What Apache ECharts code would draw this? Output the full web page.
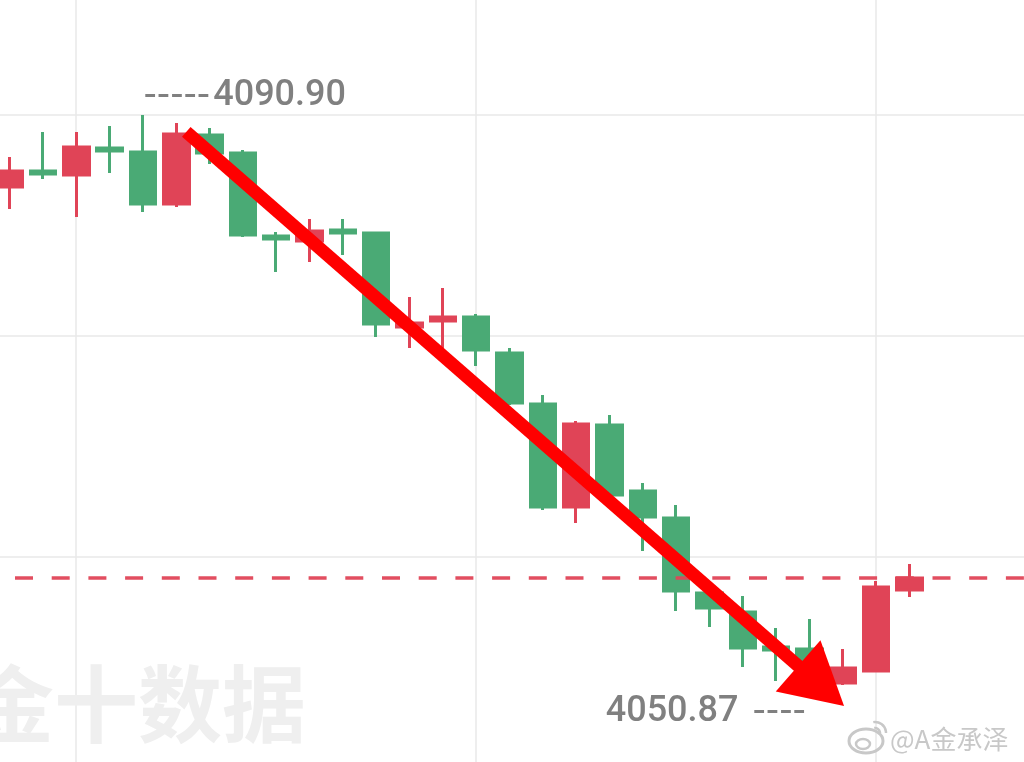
<!DOCTYPE html>
<html><head><meta charset="utf-8">
<script src="https://cdn.jsdelivr.net/npm/echarts@6/dist/echarts.min.js"></script>
<style>html,body{margin:0;padding:0;background:#fff;overflow:hidden;width:1024px;height:762px}
#c{position:absolute;left:-7px;top:0;width:1033px;height:762px}</style>
</head><body><div id="c"></div>
<script>
// ---- data ----
const categories = ['1','2','3','4','5','6','7','8','9','10','11','12','13','14','15','16','17','18','19','20','21','22','23','24','25','26','27','28','29','30','31'];
const openValues  = [4085.89,4087.00,4086.72,4088.60,4088.32,4084.70,4089.51,4088.25,4082.48,4082.13,4082.89,4082.69,4076.14,4076.56,4076.84,4074.33,4070.78,4063.61,4069.32,4064.72,4062.84,4057.62,4056.30,4053.86,4053.72,4051.36,4052.19,4057.83];
const closeValues = [4087.00,4086.79,4088.67,4088.39,4084.70,4089.58,4088.25,4082.55,4082.27,4082.82,4082.69,4076.35,4076.42,4076.84,4074.54,4070.85,4063.61,4069.39,4064.45,4062.91,4057.76,4056.58,4053.79,4053.65,4052.61,4052.40,4058.04,4058.67];
const lowValues   = [4084.36,4086.44,4083.80,4086.86,4084.15,4084.49,4087.49,4082.41,4079.97,4080.67,4081.15,4075.45,4074.68,4074.68,4073.43,4070.71,4063.40,4062.50,4064.31,4060.55,4056.37,4055.26,4052.47,4051.50,4050.87,4051.22,4052.19,4057.34];
const highValues  = [4087.98,4089.72,4089.72,4090.13,4090.90,4090.34,4090.00,4088.46,4082.75,4083.66,4083.66,4082.75,4078.23,4078.86,4077.05,4074.68,4071.41,4069.60,4070.01,4065.28,4063.75,4057.70,4057.41,4055.19,4055.81,4053.72,4058.46,4059.64];
// hand-drawn arrow annotation, in (candle index, price) terms
const arrowFrom = [5.30, 4089.72];
const arrowTo   = [25.04, 4049.76];
const watermarkText = '金十数据';
const authorText = '@A金承泽';

// ---- build ----
const candleData = openValues.map((o, i) => [o, closeValues[i], lowValues[i], highValues[i]]);
const maxHigh = Math.max(...highValues);
const maxIdx = highValues.indexOf(maxHigh);
const minLow = Math.min(...lowValues);
const minIdx = lowValues.indexOf(minLow);
const lastClose = closeValues[closeValues.length - 1];

const UP = '#e04457', DOWN = '#4aaa75', GRID = '#e9e9e9', LABEL = '#808080';
const Y_MIN = 4045.857, Y_MAX = 4098.906;
const OX = 7; // chart canvas is shifted 7px left of the page

const chart = echarts.init(document.getElementById('c'), null, {renderer: 'canvas'});
const option = {
  animation: false,
  backgroundColor: '#ffffff',
  grid: [
    {left: 0, right: 0, top: 0, bottom: 0},                 // candles
    {left: 76 + OX, width: 800, top: 0, bottom: 0},         // vertical grid lines
    {left: 0, right: 0, top: 115, height: 442}              // horizontal grid lines
  ],
  xAxis: [
    {type: 'category', gridIndex: 0, data: categories, boundaryGap: true, show: false},
    {type: 'value', gridIndex: 1, min: 0, max: 2, interval: 1,
     axisLine: {show: false}, axisTick: {show: false}, axisLabel: {show: false},
     splitLine: {show: true, lineStyle: {color: GRID, width: 1.5}}},
    {type: 'value', gridIndex: 2, min: 0, max: 1, show: false, splitLine: {show: false}}
  ],
  yAxis: [
    {type: 'value', gridIndex: 0, min: Y_MIN, max: Y_MAX, show: false, splitLine: {show: false}},
    {type: 'value', gridIndex: 1, min: 0, max: 1, show: false, splitLine: {show: false}},
    {type: 'value', gridIndex: 2, min: 0, max: 2, interval: 1,
     axisLine: {show: false}, axisTick: {show: false}, axisLabel: {show: false},
     splitLine: {show: true, lineStyle: {color: GRID, width: 1.5}}}
  ],
  series: [{
    type: 'candlestick',
    xAxisIndex: 0, yAxisIndex: 0,
    data: candleData,
    barWidth: 26,
    itemStyle: {color: UP, color0: DOWN, borderColor: UP, borderColor0: DOWN, borderWidth: 3},
    emphasis: {disabled: true},
    markLine: {
      silent: true, symbol: 'none', animation: false,
      label: {show: false},
      lineStyle: {color: UP, width: 3.5, type: [18, 18.7], dashOffset: 14.7, opacity: 0.95},
      emphasis: {disabled: true},
      data: [{yAxis: lastClose}]
    },
    markPoint: {
      silent: true, animation: false,
      symbol: 'circle', symbolSize: 1,
      itemStyle: {color: 'rgba(0,0,0,0)'},
      data: [
        {coord: [maxIdx, maxHigh], value: maxHigh,
         label: {show: true, position: 'right', distance: 0, offset: [0, -19],
           formatter: '{d|-----}{v|' + maxHigh.toFixed(2) + '}',
           rich: {
             d: {fontFamily: 'DejaVu Sans', fontSize: 37, color: LABEL, padding: [0, 3, 0, 0]},
             v: {fontFamily: 'Roboto', fontSize: 36, fontWeight: 500, color: LABEL}
           }}},
        {coord: [minIdx, minLow], value: minLow,
         label: {show: true, position: 'left', distance: 3, offset: [0, 22],
           formatter: '{v|' + minLow.toFixed(2) + '}{d|----}',
           rich: {
             d: {fontFamily: 'DejaVu Sans', fontSize: 37, color: LABEL, padding: [0, 0, 0, 14]},
             v: {fontFamily: 'Roboto', fontSize: 36, fontWeight: 500, color: LABEL}
           }}}
      ]
    }
  }]
};
chart.setOption(option);

// ---- decorations: watermark, author tag, arrow ----
function toPixel(pt) {
  const i0 = Math.floor(pt[0]);
  const f = pt[0] - i0;
  const a = chart.convertToPixel({seriesIndex: 0}, [i0, pt[1]]);
  const b = chart.convertToPixel({seriesIndex: 0}, [i0 + 1, pt[1]]);
  return [a[0] + f * (b[0] - a[0]), a[1]];
}
const s = toPixel(arrowFrom), t = toPixel(arrowTo);
const dx = t[0] - s[0], dy = t[1] - s[1], len = Math.hypot(dx, dy);
const ux = dx / len, uy = dy / len, nx = -uy, ny = ux;
const headLen = 61, headHalf = 34;
const bx = t[0] - ux * headLen, by = t[1] - uy * headLen;
const WB = '#c8c8c8';

chart.setOption({
  graphic: [
    {type: 'text', silent: true, z: 0, style: {x: -30 + OX, y: 704, text: watermarkText,
      font: 'bold 84px "Noto Sans CJK SC"', fill: '#efefef', textVerticalAlign: 'middle'}},
    {type: 'group', silent: true, z: 50, children: [
      {type: 'ellipse', shape: {cx: 866 + OX, cy: 741, rx: 17, ry: 12}, style: {fill: 'none', stroke: WB, lineWidth: 3}},
      {type: 'ellipse', shape: {cx: 863 + OX, cy: 744, rx: 7, ry: 5}, style: {fill: 'none', stroke: WB, lineWidth: 2.5}},
      {type: 'arc', shape: {cx: 875 + OX, cy: 733, r: 11, startAngle: -Math.PI * 0.55, endAngle: 0}, style: {fill: 'none', stroke: WB, lineWidth: 2.5}},
      {type: 'arc', shape: {cx: 875 + OX, cy: 733, r: 5, startAngle: -Math.PI * 0.55, endAngle: 0}, style: {fill: 'none', stroke: WB, lineWidth: 2.5}}
    ]},
    {type: 'text', silent: true, z: 50, style: {x: 890 + OX, y: 739, text: authorText,
      font: '26px "Noto Sans CJK SC"', fill: WB, textVerticalAlign: 'middle'}},
    {type: 'line', silent: true, z: 100, shape: {x1: s[0], y1: s[1], x2: bx + ux * 2, y2: by + uy * 2},
      style: {stroke: '#ff0000', lineWidth: 13, lineCap: 'butt'}},
    {type: 'polygon', silent: true, z: 100, shape: {points: [
      [t[0], t[1]], [bx + nx * headHalf, by + ny * headHalf], [bx - nx * headHalf, by - ny * headHalf]]},
      style: {fill: '#ff0000'}}
  ]
});
</script></body></html>
